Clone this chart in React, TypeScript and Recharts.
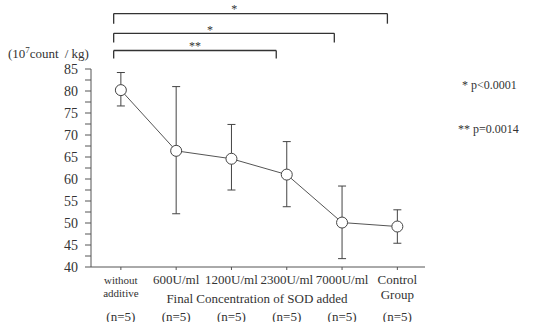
import React from 'react';
import { LineChart, Line, XAxis, YAxis, ErrorBar, ReferenceLine, ReferenceDot, Customized } from 'recharts';

const categoriesTop = ['without', '600U/ml', '1200U/ml', '2300U/ml', '7000U/ml', 'Control'];
const categoriesBottom = ['additive', '', '', '', '', 'Group'];
const nLabels = ['(n=5)', '(n=5)', '(n=5)', '(n=5)', '(n=5)', '(n=5)'];
const means = [80.2, 66.4, 64.6, 61.0, 50.1, 49.2];
const errMinus = [3.6, 14.3, 7.1, 7.3, 8.2, 3.8];
const errPlus = [4.0, 14.6, 7.8, 7.5, 8.3, 3.8];
const yTicks = [40, 45, 50, 55, 60, 65, 70, 75, 80, 85];
const yMinorTicks = [42.5, 47.5, 52.5, 57.5, 62.5, 67.5, 72.5, 77.5, 82.5];
const xTicks = [0, 1, 2, 3, 4, 5];

const X_MIN = -0.54;
const X_MAX = 5.5;
const MINOR_LEN = 0.108; // tick length in x-axis units

// significance brackets
const brackets = [
  { from: -0.13, to: 4.82, bar: 97.6, leg: 95.3, starX: 2.05, starY: 98.9, label: '*' },
  { from: -0.13, to: 3.86, bar: 93.1, leg: 91.0, starX: 1.61, starY: 94.2, label: '*' },
  { from: -0.13, to: 2.81, bar: 89.2, leg: 87.4, starX: 1.34, starY: 90.4, label: '**' },
];

const data = means.map((m, i) => ({ idx: i, mean: m, err: [errMinus[i], errPlus[i]] }));

const FONT = '"Liberation Serif", "DejaVu Serif", serif';
const INK = '#333';
const AXIS = '#555';

const XTick = (props: any) => {
  const { x, y, payload } = props;
  const i = payload.value as number;
  const small = i === 0;
  return (
    <g>
      <text x={x} y={y + 12} textAnchor="middle" fontFamily={FONT} fontSize={small ? 11 : 13} fill={INK}>
        {categoriesTop[i]}
      </text>
      {categoriesBottom[i] ? (
        <text x={x} y={y + (small ? 25 : 27)} textAnchor="middle" fontFamily={FONT} fontSize={small ? 11 : 13} fill={INK}>
          {categoriesBottom[i]}
        </text>
      ) : null}
      <text x={x} y={y + 49} textAnchor="middle" fontFamily={FONT} fontSize={13} fill={INK}>
        {nLabels[i]}
      </text>
    </g>
  );
};

const Annotations = () => (
  <g fontFamily={FONT} fill={INK}>
    <text x={8} y={58} fontSize={13}>
      (10<tspan fontSize={9} dy={-5}>7</tspan><tspan dy={5}>count</tspan><tspan dx={6}>/ kg)</tspan>
    </text>
    <text x={462} y={89} fontSize={12}>* p&lt;0.0001</text>
    <text x={458} y={133} fontSize={12}>** p=0.0014</text>
    <text x={257} y={303} fontSize={13} textAnchor="middle">Final Concentration of SOD added</text>
  </g>
);

const StarShape = (label: string) => (p: any) => (
  <text x={p.cx} y={p.cy} dy={5} textAnchor="middle" fontFamily={FONT} fontSize={12} fill={INK}>
    {label}
  </text>
);

export default function App() {
  return (
    <div style={{ position: 'absolute', left: 0, top: 0, background: '#fff' }}>
      <LineChart width={538} height={322} data={data} margin={{ top: 69, right: 113, bottom: 25, left: 51 }}>
        <XAxis
          dataKey="idx"
          type="number"
          domain={[X_MIN, X_MAX]}
          ticks={xTicks}
          tickSize={3}
          tickMargin={2}
          height={30}
          stroke={AXIS}
          tick={<XTick />}
          interval={0}
          allowDataOverflow
        />
        <YAxis
          type="number"
          domain={[40, 85]}
          ticks={yTicks}
          interval={0}
          width={40}
          tickSize={6}
          tickMargin={7}
          stroke={AXIS}
          tick={{ fontFamily: FONT, fontSize: 14, fill: INK }}
          allowDataOverflow
        />
        {yMinorTicks.map((v) => (
          <ReferenceLine
            key={'m' + v}
            segment={[{ x: X_MIN - MINOR_LEN, y: v }, { x: X_MIN, y: v }]}
            stroke={AXIS}
            strokeWidth={1}
            ifOverflow="visible"
          />
        ))}
        {brackets.map((b, k) => (
          <ReferenceLine
            key={'bar' + k}
            segment={[{ x: b.from, y: b.bar }, { x: b.to, y: b.bar }]}
            stroke="#333"
            strokeWidth={1.3}
            ifOverflow="visible"
          />
        ))}
        {brackets.map((b, k) => (
          <ReferenceLine
            key={'l' + k}
            segment={[{ x: b.from, y: b.bar }, { x: b.from, y: b.leg }]}
            stroke="#333"
            strokeWidth={1.3}
            ifOverflow="visible"
          />
        ))}
        {brackets.map((b, k) => (
          <ReferenceLine
            key={'r' + k}
            segment={[{ x: b.to, y: b.bar }, { x: b.to, y: b.leg }]}
            stroke="#333"
            strokeWidth={1.3}
            ifOverflow="visible"
          />
        ))}
        {brackets.map((b, k) => (
          <ReferenceDot
            key={'s' + k}
            x={b.starX}
            y={b.starY}
            r={0}
            ifOverflow="visible"
            shape={StarShape(b.label)}
          />
        ))}
        <Line
          dataKey="mean"
          stroke="#555"
          strokeWidth={1}
          isAnimationActive={false}
          dot={{ r: 5.5, fill: '#fff', stroke: '#444', strokeWidth: 1 }}
          activeDot={false}
        >
          <ErrorBar dataKey="err" width={4} stroke="#444" strokeWidth={1} direction="y" isAnimationActive={false} />
        </Line>
        <Customized component={<Annotations />} />
      </LineChart>
    </div>
  );
}
